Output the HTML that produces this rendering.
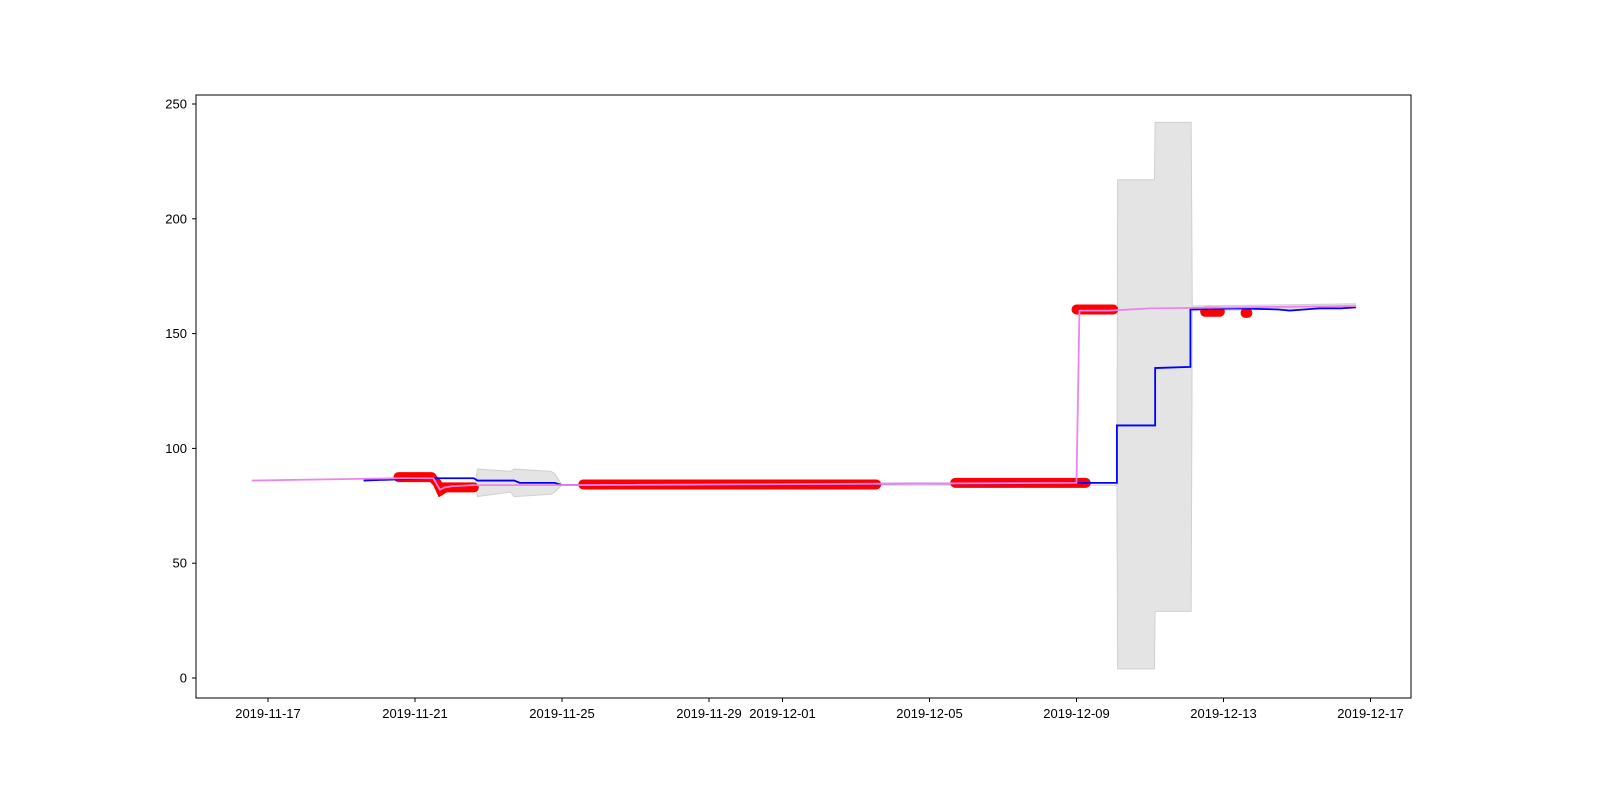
<!DOCTYPE html>
<html><head><meta charset="utf-8"><style>
html,body{margin:0;padding:0;background:#fff;overflow:hidden;width:1600px;height:800px;}
svg{display:block;}
svg text{font-family:"Liberation Sans","DejaVu Sans",sans-serif;font-size:13px;fill:#000;}
</style></head><body>
<svg id="chart" width="1600" height="800" xmlns="http://www.w3.org/2000/svg">
<rect width="1600" height="800" fill="#fff"/>
<g id="band"></g>
<g id="scatter"></g>
<g id="lines"></g>
<rect x="196" y="95" width="1215" height="603" fill="none" stroke="#000" stroke-width="1"/>
<g id="axes"></g>
</svg>
<script>
// day offsets from 2019-11-17
const xTickLabels=["2019-11-17","2019-11-21","2019-11-25","2019-11-29","2019-12-01","2019-12-05","2019-12-09","2019-12-13","2019-12-17"];
const xTickDays=[0,4,8,12,14,18,22,26,30];
const yTicks=[0,50,100,150,200,250];
const pinkDays=[-0.44,3.6,4.5,4.68,4.8,5.0,5.6,8.0,22.0,22.08,22.9,24.0,29.6];
const pinkVals=[86,87,87,82,83,83.5,84,84,85,160,160,161,162];
const blueDays=[2.6,4.4,5.6,5.7,6.7,6.85,7.8,8.0,22.5,23.1,23.1,24.14,24.14,25.1,25.1,26.4,27.5,27.8,28.6,29.2,29.6];
const blueVals=[86,87,87,86,86,85,85,84,85,85,110,110,135,135.5,160.5,161,160.5,160,161,161,161.5];
const bandDays=[5.64,5.7,6.6,6.7,7.7,7.8,8.0,23.1,23.12,24.12,24.14,25.12,25.15,29.6];
const bandHi=[84,91,90,91,90,89,84,84,217,217,242,242,162,163];
const bandLo=[84,79,81,79,80,81,84,84,4,4,29,29,160,161];
const redStart=[3.55,4.75,8.58,18.7,22.0,25.5,26.6];
const redEnd=[4.45,5.6,16.55,22.25,23.0,25.9,26.65];
const redVal=[87.5,83,84.3,85,160.5,159.5,159];
const X=d=>268+d*36.75, Y=v=>678-v*2.296;
const NS="http://www.w3.org/2000/svg";
function mk(t,a,p){const e=document.createElementNS(NS,t);for(const k in a)e.setAttribute(k,a[k]);p.appendChild(e);return e;}
let pts=bandDays.map((d,i)=>X(d)+","+Y(bandHi[i]));
for(let i=bandDays.length-1;i>=0;i--)pts.push(X(bandDays[i])+","+Y(bandLo[i]));
const bp=mk("polygon",{points:pts.join(" "),fill:"#e4e4e4",stroke:"#d0d0d0","stroke-width":1},document.getElementById("band"));


const sc=document.getElementById("scatter");
redStart.forEach((s,i)=>{
const l=mk("line",{x1:X(s),y1:Y(redVal[i]),x2:X(redEnd[i]),y2:Y(redVal[i]),stroke:"#ff0000","stroke-width":10,"stroke-linecap":"round"},sc);


});
const dip=mk("polyline",{points:[[4.45,87.5],[4.6,85],[4.7,81.5],[4.85,83]].map(p=>X(p[0])+","+Y(p[1])).join(" "),fill:"none",stroke:"#ff0000","stroke-width":9,"stroke-linecap":"round"},sc);


const lg=document.getElementById("lines");
const bl=mk("polyline",{points:blueDays.map((d,i)=>X(d)+","+Y(blueVals[i])).join(" "),fill:"none",stroke:"#0000ff","stroke-width":1.8},lg);


const pl=mk("polyline",{points:pinkDays.map((d,i)=>X(d)+","+Y(pinkVals[i])).join(" "),fill:"none",stroke:"#ee82ee","stroke-width":1.8},lg);


const ax=document.getElementById("axes");
xTickDays.forEach((d,i)=>{
const x=X(d);
const t=mk("line",{x1:x,y1:698,x2:x,y2:702,stroke:"#000"},ax);


const tx=mk("text",{x:x,y:718,"text-anchor":"middle"},ax);tx.textContent=xTickLabels[i];


});
yTicks.forEach(v=>{
const y=Y(v);
const t=mk("line",{x1:192,y1:y,x2:196,y2:y,stroke:"#000"},ax);


const tx=mk("text",{x:187,y:y+4.5,"text-anchor":"end"},ax);tx.textContent=v;


});
</script>
</body></html>
